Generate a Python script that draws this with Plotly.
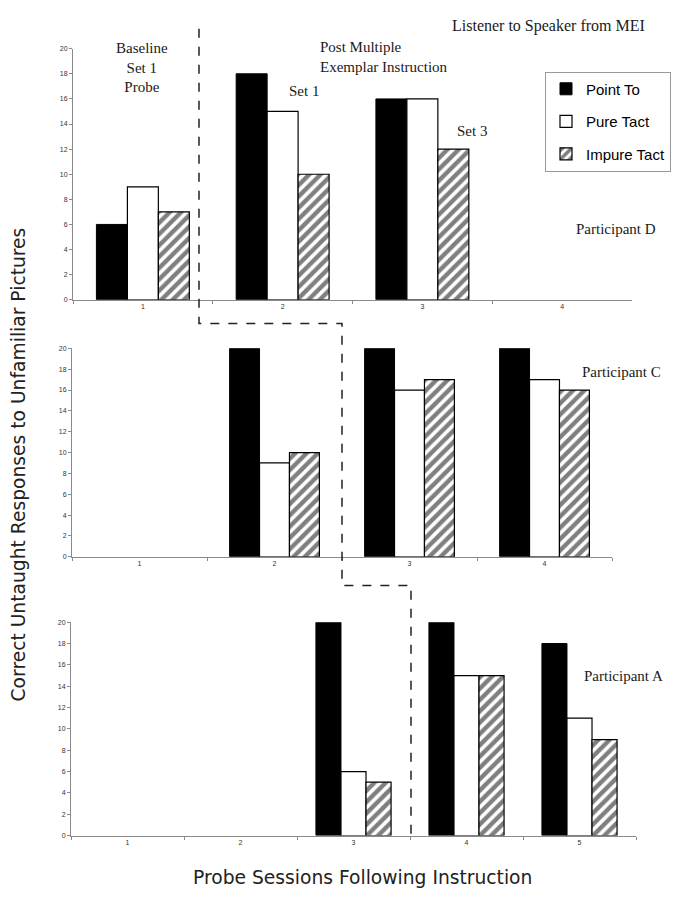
import plotly.graph_objects as go

W, H = 684, 900
OFF = 8  # page body margin offset compensation

series_names = ["Point To", "Pure Tact", "Impure Tact"]

# Participant D (top panel)
d_sessions = ["1", "2", "3", "4"]
d_point = [6, 18, 16, None]
d_pure = [9, 15, 16, None]
d_impure = [7, 10, 12, None]

# Participant C (middle panel)
c_sessions = ["1", "2", "3", "4"]
c_point = [None, 20, 20, 20]
c_pure = [None, 9, 16, 17]
c_impure = [None, 10, 17, 16]

# Participant A (bottom panel)
a_sessions = ["1", "2", "3", "4", "5"]
a_point = [None, None, 20, 20, 18]
a_pure = [None, None, 6, 15, 11]
a_impure = [None, None, 5, 15, 9]

y_ticks = list(range(0, 21, 2))


def px(x):
    return (x - OFF) / W


def py(y):
    return 1 - (y - OFF) / H


styles = [
    dict(color="black", line=dict(color="black", width=1)),
    dict(color="white", line=dict(color="black", width=1.2)),
    dict(color="white", line=dict(color="black", width=1.2),
         pattern=dict(shape="/", fgcolor="black", bgcolor="white", size=8, solidity=0.55)),
]

fig = go.Figure()

panels = [
    (d_sessions, [d_point, d_pure, d_impure], "x", "y", True),
    (c_sessions, [c_point, c_pure, c_impure], "x2", "y2", False),
    (a_sessions, [a_point, a_pure, a_impure], "x3", "y3", False),
]

for sessions, vals, xa, ya, show in panels:
    for i, (name, v) in enumerate(zip(series_names, vals)):
        fig.add_trace(go.Bar(
            x=sessions, y=v, name=name, xaxis=xa, yaxis=ya,
            marker=styles[i], showlegend=show, legendgroup=name,
        ))

# axis domains (pixel-derived)
domains = {
    "": ((73, 632), (298, 45), d_sessions),
    "2": ((72, 612), (557, 347), c_sessions),
    "3": ((71, 636), (838, 623), a_sessions),
}

axis_line = "#8a8a8a"
tick_font = dict(family="Liberation Sans, Arial", size=7, color="#333333")

for k, ((x0, x1), (yb, yt), cats) in domains.items():
    fig.layout["xaxis" + k] = dict(
        domain=[px(x0), px(x1)], anchor="y" + k, type="category",
        categoryorder="array", categoryarray=cats,
        range=[-0.5, len(cats) - 0.5],
        showline=True, linecolor=axis_line, linewidth=1,
        ticks="outside", ticklen=3, tickcolor=axis_line, tickson="boundaries",
        tickfont=tick_font, showgrid=False, zeroline=False, fixedrange=True,
    )
    fig.layout["yaxis" + k] = dict(
        domain=[py(yb), py(yt)], anchor="x" + k, range=[0, 20],
        tickvals=y_ticks, showline=True, linecolor=axis_line, linewidth=1,
        ticks="outside", ticklen=3, tickcolor=axis_line,
        tickfont=tick_font, showgrid=False, zeroline=False, fixedrange=True,
    )

serif = "Liberation Serif, Times New Roman"
sans = "DejaVu Sans, Verdana"
txt = "#1a1a1a"

annos = [
    ("Listener to Speaker from MEI", 548, 22, "center", 16),
    ("Post Multiple<br>Exemplar Instruction", 318, 53, "left", 15),
    ("Baseline<br>Set 1<br>Probe", 142, 64, "center", 15),
    ("Set 1", 287, 88, "left", 15),
    ("Set 3", 455, 128, "left", 15),
    ("Participant D", 574, 227, "left", 15),
    ("Participant C", 580, 371, "left", 15),
    ("Participant A", 582, 677, "left", 15),
]
for text, x, y, anchor, size in annos:
    fig.add_annotation(text=text, x=px(x), y=py(y), xref="paper", yref="paper",
                       xanchor=anchor, yanchor="middle", showarrow=False, align=anchor,
                       font=dict(family=serif, size=size, color=txt))

fig.add_annotation(text="Correct Untaught Responses to Unfamiliar Pictures",
                   x=px(18), y=py(464), xref="paper", yref="paper", textangle=-90,
                   showarrow=False, xanchor="center", yanchor="middle",
                   font=dict(family=sans, size=18.7, color="#222222"))
fig.add_annotation(text="Probe Sessions Following Instruction",
                   x=px(362), y=py(880), xref="paper", yref="paper",
                   showarrow=False, xanchor="center", yanchor="middle",
                   font=dict(family=sans, size=18.7, color="#222222"))

# phase-change dashed line
pts = [(199, 25), (199, 322), (342, 322), (342, 586), (411, 586), (411, 840)]
path = "M " + " L ".join(f"{px(x)},{py(y)}" for x, y in pts)
fig.add_shape(type="path", path=path, xref="paper", yref="paper",
              line=dict(color="#222222", width=1.5, dash="dash"))

fig.update_layout(
    width=W, height=H, margin=dict(l=0, r=0, t=0, b=0),
    paper_bgcolor="white", plot_bgcolor="white",
    barmode="group", bargap=0.335, bargroupgap=0,
    legend=dict(x=px(671), y=py(68), xanchor="right", yanchor="top",
                bgcolor="white", bordercolor="#999999", borderwidth=1,
                font=dict(family="Liberation Sans, Arial", size=15, color="black"),
                tracegroupgap=10, itemwidth=30),
    showlegend=True,
)

fig.write_html("out.html")
